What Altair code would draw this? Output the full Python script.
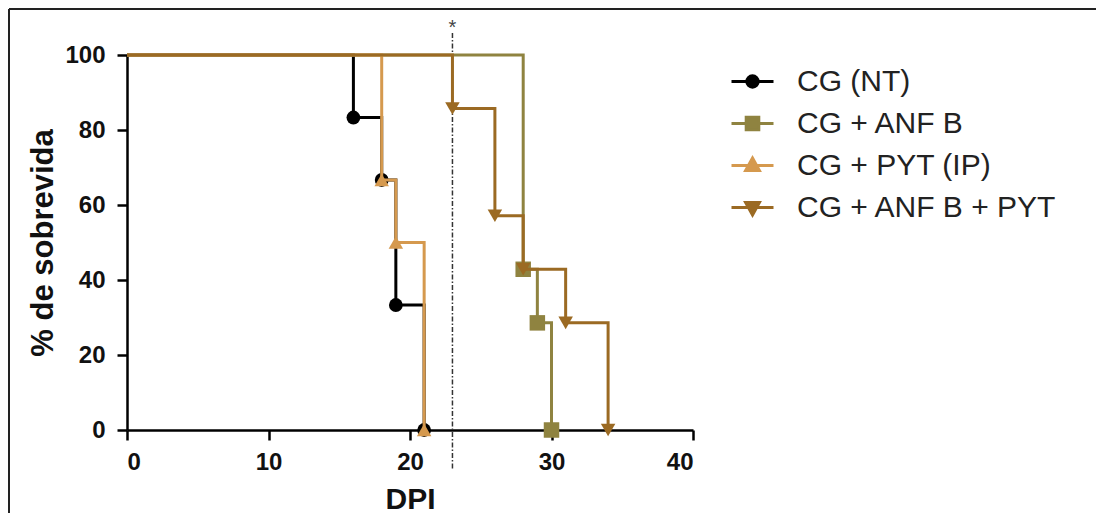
import altair as alt
import pandas as pd

# ---------------- data ----------------
groups = ["CG (NT)", "CG + ANF B", "CG + PYT (IP)", "CG + ANF B + PYT"]
colors = ["#000000", "#8F8340", "#D5994E", "#9B6A23"]
shapes = ["circle", "square", "triangle-up", "triangle-down"]

nt_days = [0, 16, 18, 19, 21]
nt_surv = [100, 83.33, 66.67, 33.33, 0]
anf_days = [0, 28, 29, 30]
anf_surv = [100, 42.86, 28.57, 0]
pyt_days = [0, 18, 19, 21]
pyt_surv = [100, 66.67, 50, 0]
anfpyt_days = [0, 23, 26, 28, 31, 34]
anfpyt_surv = [100, 85.71, 57.14, 42.86, 28.57, 0]

x_ticks = [0, 10, 20, 30, 40]
y_ticks = [0, 20, 40, 60, 80, 100]
treat_day = [23]
treat_top = [105.9]
treat_bottom = [-10.7]
star_y = [105.6]

series_days = [nt_days, anf_days, pyt_days, anfpyt_days]
series_surv = [nt_surv, anf_surv, pyt_surv, anfpyt_surv]
sizes = [190, 240, 210, 210]

# legend symbols: a short line with the marker in the middle
legend_paths = [
    "M-1.4,0H1.4M-0.38,0A0.38,0.38 0 1,0 0.38,0A0.38,0.38 0 1,0 -0.38,0Z",
    "M-1.4,0H1.4M-0.42,-0.42H0.42V0.42H-0.42Z",
    "M-1.4,0H1.4M0,-0.5L0.46,0.34H-0.46Z",
    "M-1.4,0H1.4M0,0.5L0.46,-0.34H-0.46Z",
]

# ---------------- encodings ----------------
xs = alt.Scale(domain=[0, 40], nice=False, zero=False)
ys = alt.Scale(domain=[0, 100], nice=False, zero=False)
x_axis = alt.Axis(values=x_ticks, title="DPI", titleY=78, titleBaseline="alphabetic",
                  titleFontSize=30)
y_axis = alt.Axis(values=y_ticks, title="% de sobrevida", titleX=-75, titleY=187.5,
                  titleBaseline="alphabetic", titleAlign="center", titleAngle=-90,
                  titleFontSize=31)

layers = []
for g, d, s, shp, sz, col in zip(groups, series_days, series_surv, shapes, sizes, colors):
    df = pd.DataFrame({"day": d, "surv": s, "group": g})
    base = alt.Chart(df)
    line = base.mark_line(interpolate="step-after", strokeWidth=3, opacity=1, color=col).encode(
        x=alt.X("day:Q", scale=xs, axis=x_axis),
        y=alt.Y("surv:Q", scale=ys, axis=y_axis),
    )
    pts = base.transform_filter("datum.day > 0").mark_point(
        filled=True, shape=shp, size=sz, opacity=1, color=col
    ).encode(
        x=alt.X("day:Q", scale=xs),
        y=alt.Y("surv:Q", scale=ys),
    )
    layers += [line, pts]

# legend-only layer: its points sit outside the plot and are clipped away
leg_df = pd.DataFrame({"group": groups, "day": [-100] * 4, "surv": [-100] * 4})
leg_layer = alt.Chart(leg_df).mark_point(
    filled=True, size=900, opacity=1, strokeWidth=3, clip=True
).encode(
    x=alt.X("day:Q", scale=xs),
    y=alt.Y("surv:Q", scale=ys),
    fill=alt.Fill("group:N", scale=alt.Scale(domain=groups, range=colors), title=None),
    stroke=alt.Stroke("group:N", scale=alt.Scale(domain=groups, range=colors), title=None),
    shape=alt.Shape("group:N", scale=alt.Scale(domain=groups, range=legend_paths), title=None),
)

treat_df = pd.DataFrame({"day": treat_day, "top": treat_top, "bottom": treat_bottom,
                         "star": star_y})
treat_rule = alt.Chart(treat_df).mark_rule(
    strokeDash=[5, 2, 1.5, 2], strokeWidth=1.5, color="#333333"
).encode(x=alt.X("day:Q", scale=xs), y=alt.Y("top:Q", scale=ys), y2="bottom:Q")
treat_star = alt.Chart(treat_df).mark_text(
    text="*", fontSize=20, font="Liberation Sans", color="#444444", baseline="alphabetic"
).encode(x=alt.X("day:Q", scale=xs), y=alt.Y("star:Q", scale=ys))

frame_df = pd.DataFrame({"a": [0]})
frame_left = alt.Chart(frame_df).mark_rule(strokeWidth=2, color="#222222").encode(
    x=alt.value(-118), y=alt.value(-46), y2=alt.value(460))
frame_top = alt.Chart(frame_df).mark_rule(strokeWidth=2, color="#222222").encode(
    x=alt.value(-118), x2=alt.value(969), y=alt.value(-46))

chart = alt.layer(frame_left, frame_top, treat_rule, treat_star, *layers, leg_layer).properties(
    width=566,
    height=375,
    padding={"left": 119, "top": 47, "right": 403, "bottom": 83},
    autosize=alt.AutoSizeParams(type="none"),
).configure_view(strokeWidth=0).configure_axis(
    grid=False,
    domainColor="#000000",
    domainWidth=2.5,
    tickColor="#000000",
    tickWidth=2.5,
    tickSize=10,
    labelFont="Liberation Sans",
    labelFontSize=24,
    labelFontWeight="bold",
    labelColor="#111111",
    titleFont="Liberation Sans",
    titleFontWeight="bold",
    titleColor="#111111",
).configure_axisX(labelPadding=10).configure_axisY(labelPadding=12).configure_legend(
    orient="none",
    legendX=609,
    legendY=10,
    symbolSize=900,
    symbolStrokeWidth=3,
    labelFont="Liberation Sans",
    labelFontSize=30,
    labelColor="#222222",
    labelOffset=28,
    labelLimit=500,
    rowPadding=10,
    padding=0,
)

chart.save("out.html", embed_options={"renderer": "svg", "actions": False})
